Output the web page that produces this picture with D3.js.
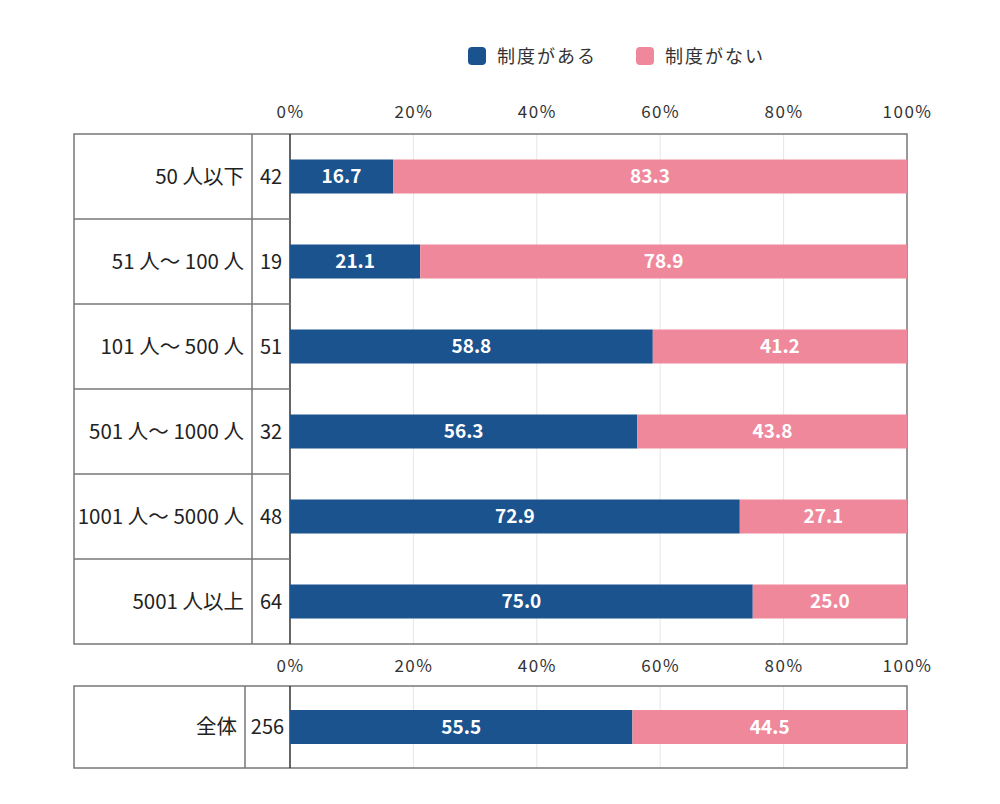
<!DOCTYPE html>
<html>
<head>
<meta charset="utf-8">
<script src="https://cdn.jsdelivr.net/npm/d3@7/dist/d3.min.js"></script>
<style>
  body { margin: 0; background: #fff; }
  text { font-family: "Noto Sans CJK JP", "Noto Sans", sans-serif; }
</style>
</head>
<body>
<div id="corpo"></div>
<script>
// data
var categories = ["50 人以下", "51 人～ 100 人", "101 人～ 500 人", "501 人～ 1000 人", "1001 人～ 5000 人", "5001 人以上"];
var counts = [42, 19, 51, 32, 48, 64];
var withPlan = [16.7, 21.1, 58.8, 56.3, 72.9, 75.0];
var withoutPlan = [83.3, 78.9, 41.2, 43.8, 27.1, 25.0];
var totalLabel = "全体";
var totalCount = 256;
var totalWith = 55.5;
var totalWithout = 44.5;
var seriesNames = ["制度がある", "制度がない"];
var tickValues = [0, 20, 40, 60, 80, 100];

var colors = ["#1b538e", "#f0889c"];
var width = 1000, height = 804;

var svg = d3.select("#corpo").append("svg")
    .attr("width", width)
    .attr("height", height);

var x = d3.scaleLinear().domain([0, 100]).range([290, 907]);
var line = "#777";

// legend
var legend = svg.append("g");
[468, 636].forEach(function(lx, i){
    legend.append("rect")
        .attr("x", lx).attr("y", 47).attr("width", 18).attr("height", 18)
        .attr("rx", 4)
        .style("fill", colors[i]);
    legend.append("text")
        .attr("x", lx + 29).attr("y", 63)
        .style("font-size", "18px")
        .style("fill", "#333")
        .style("letter-spacing", "2px")
        .text(seriesNames[i]);
});

function drawBlock(top, rowH, rows, sepX, tickY){
    var y = d3.scaleBand()
        .domain(d3.range(rows.length))
        .range([top, top + rowH * rows.length]);
    var bottom = top + rowH * rows.length;

    // ticks
    var axis = d3.axisTop(x).tickValues(tickValues)
        .tickFormat(function(d){ return d + "%"; })
        .tickSize(0).tickPadding(0);
    var ag = svg.append("g")
        .attr("transform", "translate(0," + tickY + ")")
        .call(axis);
    ag.select(".domain").remove();
    ag.selectAll("text")
        .style("font-family", "\"Noto Sans CJK JP\", sans-serif")
        .style("font-size", "17px")
        .style("letter-spacing", "1.5px")
        .style("fill", "#333");

    // grid
    svg.append("g").selectAll("line")
        .data(tickValues.slice(1, -1))
        .enter().append("line")
        .attr("x1", function(d){ return x(d); })
        .attr("x2", function(d){ return x(d); })
        .attr("y1", top).attr("y2", bottom)
        .style("stroke", "#e6e6e6");

    // frame
    svg.append("rect")
        .attr("x", 74).attr("y", top)
        .attr("width", x(100) - 74).attr("height", bottom - top)
        .style("fill", "none").style("stroke", line).style("stroke-width", 1.5);
    svg.append("line")
        .attr("x1", sepX).attr("x2", sepX).attr("y1", top).attr("y2", bottom)
        .style("stroke", line).style("stroke-width", 1.5);
    svg.append("line")
        .attr("x1", x(0)).attr("x2", x(0)).attr("y1", top).attr("y2", bottom)
        .style("stroke", "#333").style("stroke-width", 1.5);
    svg.append("g").selectAll("line")
        .data(d3.range(1, rows.length))
        .enter().append("line")
        .attr("x1", 74).attr("x2", x(0))
        .attr("y1", function(d){ return y(d); })
        .attr("y2", function(d){ return y(d); })
        .style("stroke", line).style("stroke-width", 1.5);

    var g = svg.append("g").selectAll("g")
        .data(rows)
        .enter().append("g");

    var bh = 34;
    g.append("rect")
        .attr("x", x(0))
        .attr("y", function(d, i){ return y(i) + rowH / 2 - bh / 2; })
        .attr("width", function(d){ return x(d.a) - x(0); })
        .attr("height", bh)
        .style("fill", colors[0]);
    g.append("rect")
        .attr("x", function(d){ return x(d.a); })
        .attr("y", function(d, i){ return y(i) + rowH / 2 - bh / 2; })
        .attr("width", function(d){ return x(100) - x(d.a); })
        .attr("height", bh)
        .style("fill", colors[1]);

    g.append("text")
        .attr("x", function(d){ return x(d.a / 2); })
        .attr("y", function(d, i){ return y(i) + rowH / 2; })
        .attr("dy", "0.36em")
        .attr("text-anchor", "middle")
        .style("fill", "#fff").style("font-weight", "bold").style("font-size", "19px")
        .text(function(d){ return d.a.toFixed(1); });
    g.append("text")
        .attr("x", function(d){ return x(d.a + d.b / 2); })
        .attr("y", function(d, i){ return y(i) + rowH / 2; })
        .attr("dy", "0.36em")
        .attr("text-anchor", "middle")
        .style("fill", "#fff").style("font-weight", "bold").style("font-size", "19px")
        .text(function(d){ return d.b.toFixed(1); });

    g.append("text")
        .attr("x", sepX - 8)
        .attr("y", function(d, i){ return y(i) + rowH / 2; })
        .attr("dy", "0.36em")
        .attr("text-anchor", "end")
        .style("fill", "#222").style("font-size", "20.5px")
        .text(function(d){ return d.label; });
    g.append("text")
        .attr("x", (sepX + x(0)) / 2)
        .attr("y", function(d, i){ return y(i) + rowH / 2; })
        .attr("dy", "0.36em")
        .attr("text-anchor", "middle")
        .style("fill", "#222").style("font-size", "20px")
        .text(function(d){ return d.n; });
}

var rows = categories.map(function(c, i){
    return { label: c, n: counts[i], a: withPlan[i], b: withoutPlan[i] };
});
drawBlock(134, 85, rows, 252, 118);
drawBlock(686, 82, [{ label: totalLabel, n: totalCount, a: totalWith, b: totalWithout }], 245, 672);
</script>
</body>
</html>
